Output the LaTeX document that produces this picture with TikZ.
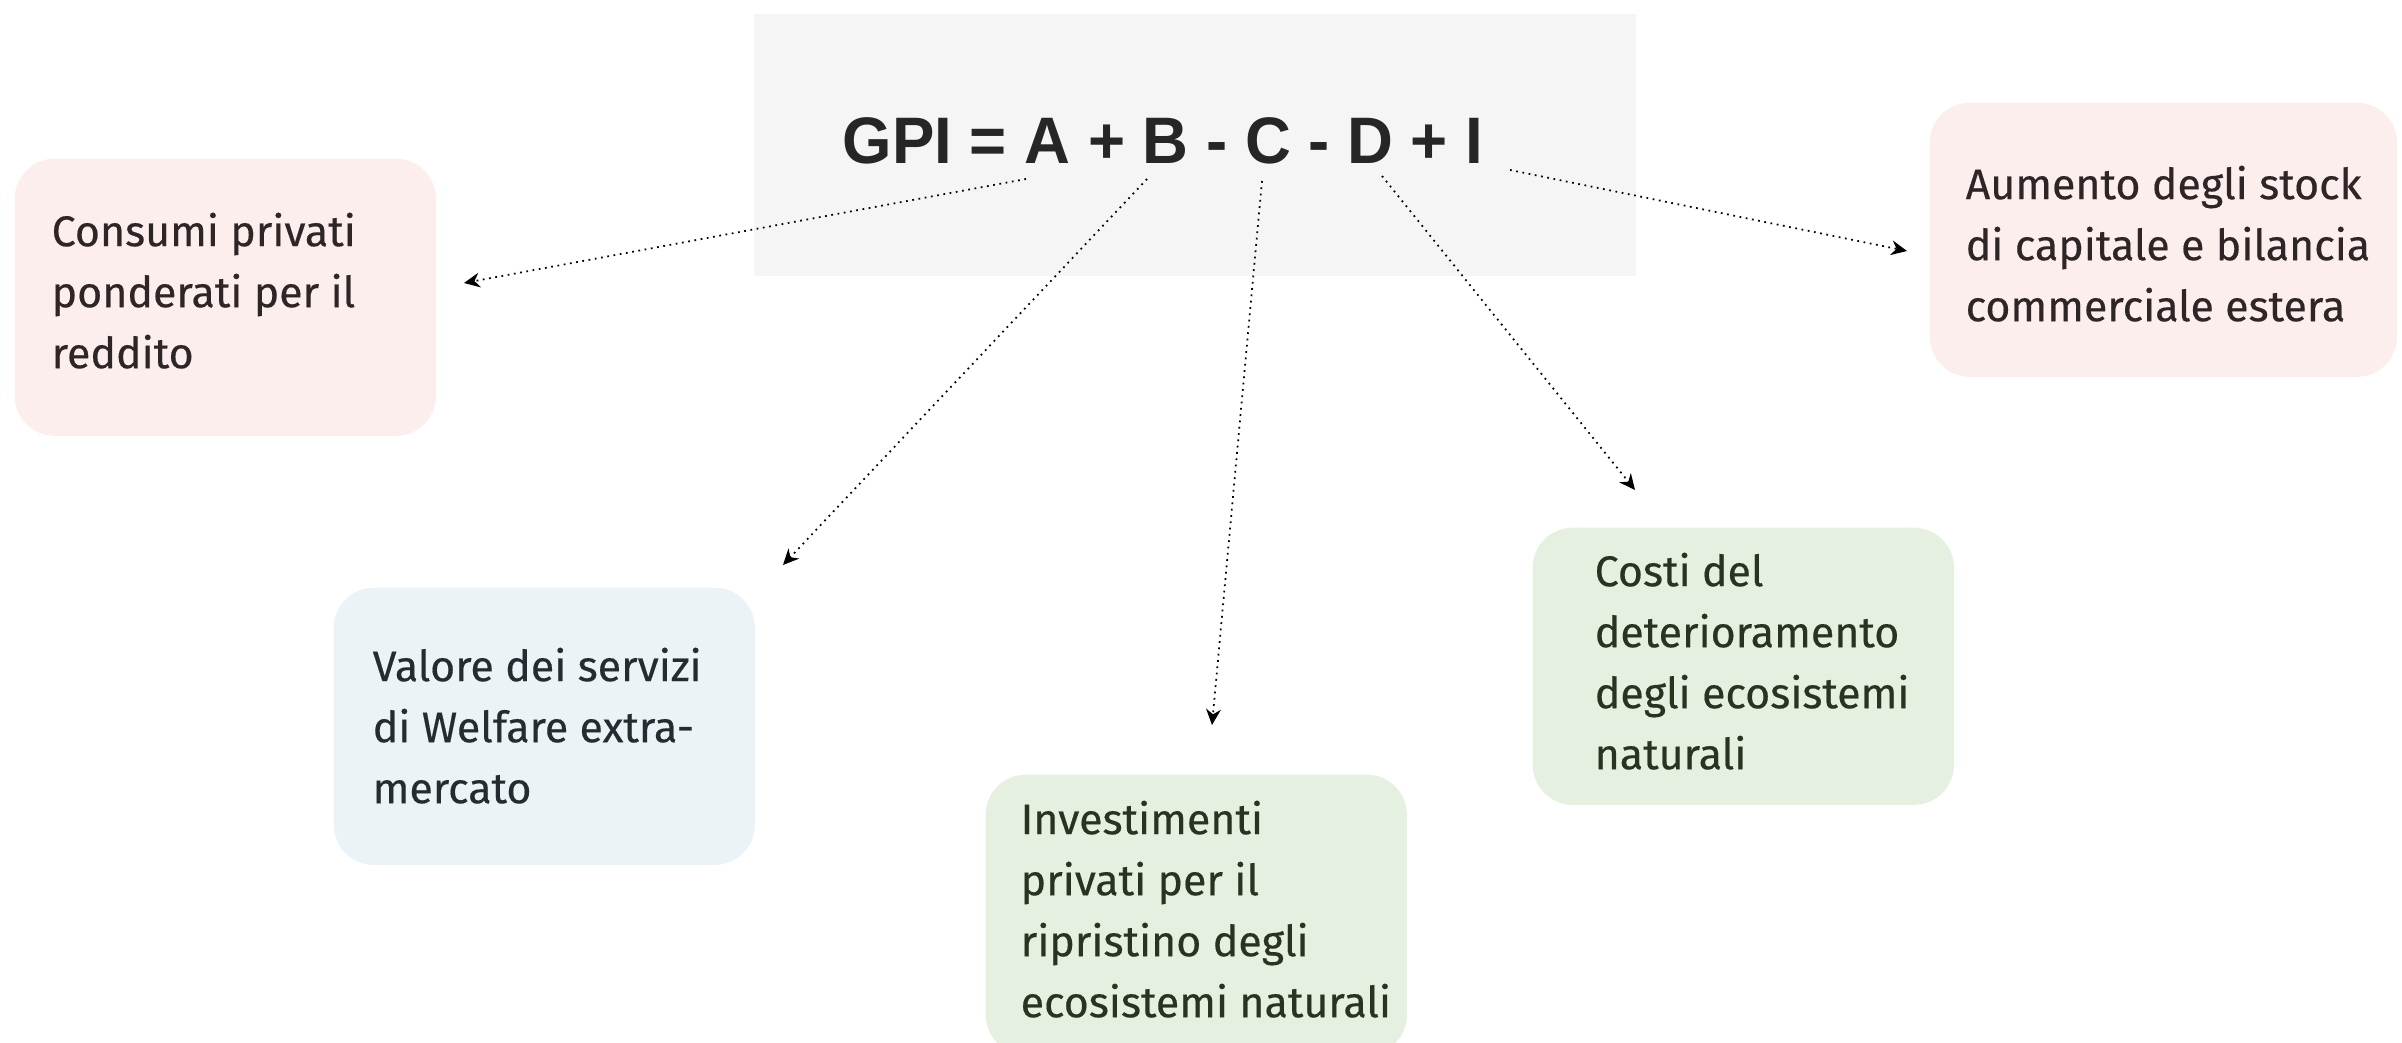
\documentclass[tikz,border=0pt]{standalone}
\usepackage{fontspec}
\setmainfont[FakeBold=0.35]{Fira Sans}
\newfontfamily\formfont[FakeStretch=0.966]{Liberation Sans}
\usetikzlibrary{arrows.meta}
\definecolor{graybg}{HTML}{F5F5F5}
\definecolor{pinkbg}{HTML}{FDEEEE}
\definecolor{bluebg}{HTML}{ECF3F6}
\definecolor{greenbg}{HTML}{E6F0E0}
\definecolor{pinktxt}{HTML}{2E2527}
\definecolor{bluetxt}{HTML}{232C30}
\definecolor{greentxt}{HTML}{29331F}
\definecolor{formtxt}{HTML}{262626}
\tikzset{
  card/.style={rounded corners=0.4cm, minimum width=4.21cm, minimum height=2.77cm, anchor=north west, inner sep=0pt},
  cardtext/.style={anchor=north west, inner sep=0pt, align=left, font=\fontsize{12.2pt}{17.35pt}\selectfont},
  link/.style={line width=0.5pt, dash pattern=on 0.5pt off 1.3pt, -{Stealth[length=4.5pt,width=4.2pt]}}
}
\begin{document}
\begin{tikzpicture}[x=0.01cm,y=-0.01cm]
\useasboundingbox (0,0) rectangle (2402,1043);
% formula box
\fill[graybg] (754,14) rectangle (1636,276);
\node[anchor=base, inner sep=0pt, text=formtxt, font=\formfont\bfseries\fontsize{18.7pt}{20pt}\selectfont] (gpi) at (1163,164) {GPI = A + B - C - D + I};
% cards
\node[card, fill=pinkbg] (A) at (14,158) {};
\node[card, fill=pinkbg, minimum width=4.67cm, minimum height=2.74cm] (I) at (1929,102) {};
\node[card, fill=bluebg] (B) at (333,587) {};
\node[card, fill=greenbg, minimum height=2.8cm] (C) at (985,774) {};
\node[card, fill=greenbg] (D) at (1532,527) {};
% texts
\node[cardtext, text=pinktxt] (At) at (51,212) {Consumi privati\\ponderati per il\\reddito};
\node[cardtext, text=pinktxt] (It) at (1965,165) {Aumento degli stock\\di capitale e bilancia\\commerciale estera};
\node[cardtext, text=bluetxt] (Bt) at (372,647) {Valore dei servizi\\di Welfare extra-\\mercato};
\node[cardtext, text=greentxt] (Ct) at (1020,800) {Investimenti\\privati per il\\ripristino degli\\ecosistemi naturali};
\node[cardtext, text=greentxt] (Dt) at (1594,552) {Costi del\\deterioramento\\degli ecosistemi\\naturali};
% connector ends
\coordinate (sA) at (1026,179); \coordinate (eA) at (464,283);
\coordinate (sB) at (1147,179); \coordinate (eB) at (783,565);
\coordinate (sC) at (1262,181); \coordinate (eC) at (1212,725);
\coordinate (sD) at (1382,176); \coordinate (eD) at (1635,490);
\coordinate (sI) at (1510,170); \coordinate (eI) at (1907,251);
\draw[link] (sA) -- (eA);
\draw[link] (sB) -- (eB);
\draw[link] (sC) -- (eC);
\draw[link] (sD) -- (eD);
\draw[link] (sI) -- (eI);
\end{tikzpicture}
\end{document}
